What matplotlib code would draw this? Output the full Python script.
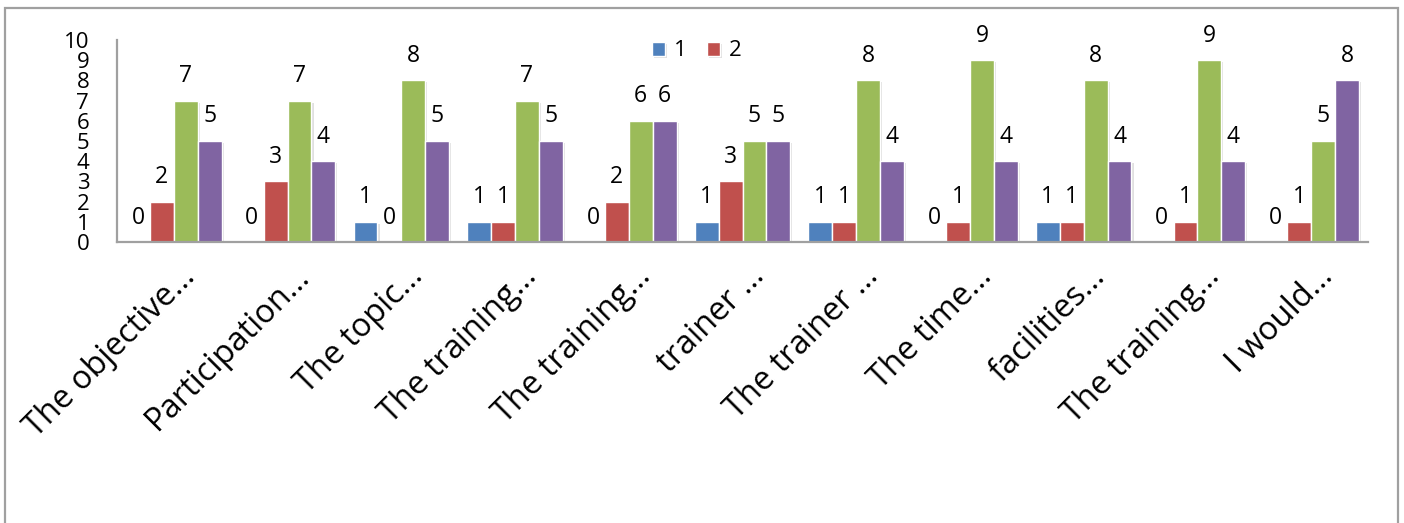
import numpy as np
import matplotlib
matplotlib.use("Agg")
import matplotlib.pyplot as plt
import matplotlib.patheffects as pe
from matplotlib.patches import Rectangle
from matplotlib.transforms import ScaledTranslation

plt.rcParams["font.family"] = ["Open Sans", "DejaVu Sans"]

categories = ["The objective…", "Participation…", "The topic…", "The training…",
              "The training…", "trainer …", "The trainer …", "The time…",
              "facilities…", "The training…", "I would…"]
series_names = ["1", "2", "3", "4"]
s1 = [0, 0, 1, 1, 0, 1, 1, 0, 1, 0, 0]
s2 = [2, 3, 0, 1, 2, 3, 1, 1, 1, 1, 1]
s3 = [7, 7, 8, 7, 6, 5, 8, 9, 8, 9, 5]
s4 = [5, 4, 5, 5, 6, 5, 4, 4, 4, 4, 8]
y_ticks = list(range(0, 11))

colors = ["#4F81BD", "#C0504D", "#9BBB59", "#8064A2"]

fig = plt.figure(figsize=(14.04, 5.23), dpi=100)
ax = fig.add_axes([117 / 1404, 281 / 523, (1368 - 117) / 1404, 202 / 523])

# outer chart frame
fig.patches.append(Rectangle((5 / 1404, -0.05), 1393 / 1404, 0.05 + 515 / 523,
                             transform=fig.transFigure, fill=False,
                             edgecolor="#A0A0A0", linewidth=1.6))

x = np.arange(len(categories))
width = 0.21
shadow = [pe.SimplePatchShadow(offset=(1.5, -1.5), shadow_rgbFace="#000000", alpha=0.12),
          pe.Normal()]
containers = []
for i, (vals, c) in enumerate(zip([s1, s2, s3, s4], colors)):
    bars = ax.bar(x + (i - 1.5) * width, vals, width, color=c, edgecolor="white",
                  linewidth=1.0, label=series_names[i], path_effects=shadow)
    ax.bar_label(bars, padding=9, fontsize=16.5)
    containers.append(bars)

ax.set_ylim(0, 10)
ax.set_xlim(-0.5, len(categories) - 0.5)
ax.set_yticks(y_ticks)
ax.tick_params(axis="y", length=0, pad=20, labelsize=16)
ax.tick_params(axis="x", length=0)
ax.set_xticks(x)
ax.set_xticklabels(categories, rotation=45, ha="right", va="baseline",
                   rotation_mode="anchor", fontsize=23.5)
offset = ScaledTranslation(23 / 100, -31 / 100, fig.dpi_scale_trans)
for lbl in ax.get_xticklabels():
    lbl.set_transform(lbl.get_transform() + offset)

for side in ["top", "right"]:
    ax.spines[side].set_visible(False)
for side in ["left", "bottom"]:
    ax.spines[side].set_color("#A0A0A0")
    ax.spines[side].set_linewidth(1.6)

ax.legend(handles=containers[:2], labels=series_names[:2], loc="center",
          bbox_to_anchor=(697 / 1404, 472 / 523), bbox_transform=fig.transFigure,
          ncol=2, frameon=False, fontsize=16, handlelength=0.6, handleheight=0.6,
          handletextpad=0.4, columnspacing=0.9)

fig.savefig("out.png", dpi=100)
